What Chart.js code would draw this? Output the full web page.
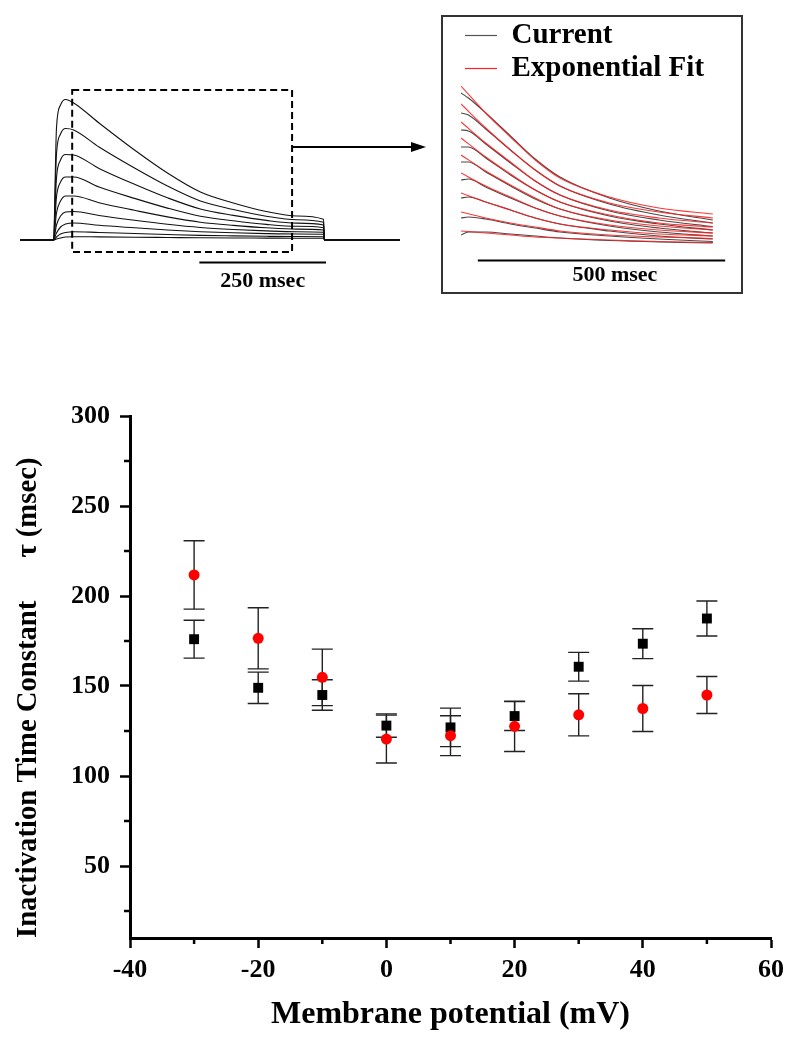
<!DOCTYPE html>
<html>
<head>
<meta charset="utf-8">
<title>Inactivation time constant</title>
<script src="https://cdn.jsdelivr.net/npm/chart.js@4.4.1/dist/chart.umd.min.js"></script>
<style>
  html, body { margin: 0; padding: 0; background: #fff; }
  body { width: 792px; height: 1050px; position: relative; overflow: hidden; }
  .panel { position: absolute; }
  #tracesBox { left: 20px; top: 80px; width: 380px; height: 220px; }
  #fitBorder { left: 441px; top: 15px; width: 298px; height: 275px; border: 2px solid #333; }
  #fitBox { left: 443px; top: 17px; width: 298px; height: 275px; }
  #mainBox { left: 0; top: 380px; width: 792px; height: 670px; }
  #arrow { left: 290px; top: 138px; }
</style>
</head>
<body>
<div class="panel" id="tracesBox"><canvas id="tracesChart"></canvas></div>
<svg class="panel" id="arrow" width="140" height="18">
  <line x1="2" y1="9" x2="124" y2="9" stroke="#000" stroke-width="2"/>
  <polygon points="121,4 136,9 121,14" fill="#000"/>
</svg>
<div class="panel" id="fitBorder"></div>
<div class="panel" id="fitBox"><canvas id="fitChart"></canvas></div>
<div class="panel" id="mainBox"><canvas id="mainChart"></canvas></div>

<script>
// ---- summary data: membrane potential vs inactivation tau ----
const potentials = [-30, -20, -10, 0, 10, 20, 30, 40, 50];
const squareTau = [176, 149, 145, 128, 127, 133.3, 160.7, 173.5, 187.5];
const squareErr = [10.5, 8.7, 8.5, 6.5, 10.7, 8, 8, 8.3, 9.7];
const circleTau = [211.7, 176.5, 154.8, 120.5, 122.4, 127.6, 134, 137.5, 145];
const circleErr = [19, 17, 15.7, 13.3, 11.1, 14, 11.7, 12.8, 10.3];

const xTicks = [-40, -20, 0, 20, 40, 60];
const xMinorTicks = [-30, -10, 10, 30, 50];
const yTicks = [50, 100, 150, 200, 250, 300];
const yMinorTicks = [25, 75, 125, 175, 225, 275];

// ---- raw current traces (left inset), time in ms, current in a.u. ----
const rawTimes = [-66, -1, 0, 6, 14, 24, 40, 90, 160, 225, 290, 355, 420, 480, 533, 535, 684];
const rawTraces = [
    [0, 0, 0, 112, 135, 140.5, 137, 117, 90, 67, 48, 37, 28.5, 24, 20.7, 0, 0],
    [0, 0, 0, 86, 106, 111.5, 110, 93, 72, 54, 39, 30.5, 23.8, 20.3, 17.7, 0, 0],
    [0, 0, 0, 62, 80, 85.5, 85, 71.6, 55.7, 42.2, 31, 24.6, 19.6, 16.9, 15, 0, 0],
    [0, 0, 0, 43, 58, 63, 63, 53, 41.6, 31.9, 23.8, 19.2, 15.6, 13.7, 12.3, 0, 0],
    [0, 0, 0, 27, 39, 44, 44, 37.3, 29.7, 23.1, 17.8, 14.6, 12.2, 10.9, 10, 0, 0],
    [0, 0, 0, 15, 24, 28, 28.5, 24.5, 19.7, 15.7, 12.5, 10.5, 9.1, 8.3, 7.7, 0, 0],
    [0, 0, 0, 7, 13, 16, 17, 14.7, 12.2, 10, 8.3, 7.2, 6.4, 6, 5.7, 0, 0],
    [0, 0, 0, 3, 6, 7.5, 8.3, 7.5, 6.5, 5.5, 4.6, 4.1, 3.7, 3.5, 3.3, 0, 0],
    [0, 0, 0, 1, 2, 3, 3.3, 3.1, 2.8, 2.5, 2.2, 2, 1.9, 1.8, 1.7, 0, 0]
];
const zoomWindow = [37, 471];   // ms, dashed box on the raw traces

// ---- expanded decay (right inset) ----
const fitTimes = [0, 50, 100, 150, 200, 300, 400, 509];
const fitTraces = [
    [164, 137, 113, 90, 72, 53, 42, 36],
    [146, 122, 100, 80, 64, 47, 38, 32],
    [128, 107, 88, 69, 55, 40, 32, 27],
    [112, 93, 76, 60, 48, 35, 27, 23],
    [95, 79, 65, 52, 41, 30, 24, 20],
    [77, 64, 53, 42, 34, 25, 20, 17],
    [57, 48, 40, 32, 26, 20, 16, 14],
    [38, 32, 27, 23, 19, 15, 13, 11.5],
    [19, 17, 15, 13, 12, 10, 8.5, 7.5]
];
const currentTimes = [0, 15, 50, 100, 150, 200, 300, 400, 509];
const currentTraces = [
    [157, 152, 137, 114, 91, 73, 52, 39, 30],
    [137, 135, 121, 100, 80, 64, 46, 35, 27],
    [120, 119, 106, 87, 69, 55, 39, 30, 23.5],
    [103, 103, 92, 75, 60, 48, 34, 26, 20],
    [88, 88, 78, 64, 51, 41, 29, 22, 17],
    [70, 71, 63, 52, 42, 34, 24, 18, 14],
    [52, 53, 48, 40, 32, 26, 19, 14, 11],
    [32, 33, 31, 26, 22, 18, 14, 11, 8.5],
    [15, 18, 18, 16, 14, 12, 9.5, 8, 7]
];

const serif = '"Liberation Serif", "Times New Roman", serif';

function toPoints(times, values) {
    return values.map((v, i) => ({ x: times[i], y: v }));
}

// Scale bar + label drawn with the chart's own scales
const scaleBarPlugin = {
    id: 'scaleBar',
    afterDraw(chart, args, opts) {
        const { ctx, scales: { x, y } } = chart;
        const x0 = x.getPixelForValue(opts.from);
        const x1 = x.getPixelForValue(opts.to);
        const yy = Math.round(y.getPixelForValue(opts.level)) + 0.5;
        ctx.save();
        ctx.strokeStyle = '#000';
        ctx.lineWidth = 2;
        ctx.beginPath();
        ctx.moveTo(x0, yy);
        ctx.lineTo(x1, yy);
        ctx.stroke();
        ctx.fillStyle = '#000';
        ctx.font = 'bold 22px ' + serif;
        ctx.textAlign = 'center';
        ctx.textBaseline = 'middle';
        ctx.fillText(opts.text, x.getPixelForValue(opts.textAt), y.getPixelForValue(opts.textLevel));
        ctx.restore();
    }
};

// Dashed selection box on the raw traces
const zoomBoxPlugin = {
    id: 'zoomBox',
    afterDraw(chart, args, opts) {
        const { ctx, scales: { x, y } } = chart;
        const l = x.getPixelForValue(opts.from), r = x.getPixelForValue(opts.to);
        const t = y.getPixelForValue(opts.top), b = y.getPixelForValue(opts.bottom);
        ctx.save();
        ctx.strokeStyle = '#000';
        ctx.lineWidth = 2;
        ctx.setLineDash([7, 4]);
        ctx.strokeRect(l, t, r - l, b - t);
        ctx.restore();
    }
};

// Error bars under the markers
const errorBarPlugin = {
    id: 'errorBars',
    beforeDatasetsDraw(chart) {
        const { ctx, scales: { x, y } } = chart;
        ctx.save();
        ctx.strokeStyle = '#222';
        ctx.lineWidth = 1.4;
        chart.data.datasets.forEach(ds => {
            ds.data.forEach((p, i) => {
                const px = x.getPixelForValue(p.x);
                const top = y.getPixelForValue(p.y + ds.errors[i]);
                const bot = y.getPixelForValue(p.y - ds.errors[i]);
                ctx.beginPath();
                ctx.moveTo(px, top);
                ctx.lineTo(px, bot);
                ctx.moveTo(px - 10.5, top);
                ctx.lineTo(px + 10.5, top);
                ctx.moveTo(px - 10.5, bot);
                ctx.lineTo(px + 10.5, bot);
                ctx.stroke();
            });
        });
        ctx.restore();
    }
};

// Minor tick marks (Chart.js has no minor ticks)
const minorTickPlugin = {
    id: 'minorTicks',
    afterDraw(chart) {
        const { ctx, scales: { x, y }, chartArea } = chart;
        ctx.save();
        ctx.strokeStyle = '#000';
        ctx.lineWidth = 2.5;
        ctx.beginPath();
        xMinorTicks.forEach(v => {
            const px = x.getPixelForValue(v);
            ctx.moveTo(px, chartArea.bottom);
            ctx.lineTo(px, chartArea.bottom + 6);
        });
        yMinorTicks.forEach(v => {
            const py = y.getPixelForValue(v);
            ctx.moveTo(chartArea.left, py);
            ctx.lineTo(chartArea.left - 6, py);
        });
        ctx.stroke();
        ctx.restore();
    }
};

const hiddenAxis = (min, max) => ({ type: 'linear', min: min, max: max, display: false });

document.addEventListener('DOMContentLoaded', function () {
    // Left inset: family of outward currents
    new Chart(document.getElementById('tracesChart'), {
        type: 'line',
        data: {
            datasets: rawTraces.map(tr => ({
                data: toPoints(rawTimes, tr),
                borderColor: '#111',
                borderWidth: 1.1,
                pointRadius: 0,
                cubicInterpolationMode: 'monotone'
            }))
        },
        options: {
            responsive: true,
            maintainAspectRatio: false,
            animation: false,
            layout: { padding: 0 },
            scales: { x: hiddenAxis(-66, 684), y: hiddenAxis(-60, 160) },
            plugins: {
                legend: { display: false },
                tooltip: { enabled: false },
                zoomBox: { from: zoomWindow[0], to: zoomWindow[1], top: 150, bottom: -12 },
                scaleBar: { from: 288, to: 538, level: -22, text: '250 msec', textAt: 413, textLevel: -41 }
            }
        },
        plugins: [zoomBoxPlugin, scaleBarPlugin]
    });

    // Right inset: decay phase with single exponential fits
    const fitSets = fitTraces.map(tr => ({
        data: toPoints(fitTimes, tr),
        borderColor: 'rgba(255, 30, 30, 0.9)',
        borderWidth: 1.1,
        pointRadius: 0,
        cubicInterpolationMode: 'monotone'
    }));
    const currentSets = currentTraces.map(tr => ({
        data: toPoints(currentTimes, tr),
        borderColor: 'rgba(40, 40, 40, 0.85)',
        borderWidth: 1.1,
        pointRadius: 0,
        cubicInterpolationMode: 'monotone'
    }));

    new Chart(document.getElementById('fitChart'), {
        type: 'line',
        data: { datasets: fitSets.concat(currentSets) },
        options: {
            responsive: true,
            maintainAspectRatio: false,
            animation: false,
            layout: { padding: { left: 18, top: 0, right: 0, bottom: 0 } },
            scales: { x: hiddenAxis(0, 566), y: hiddenAxis(-42, 233) },
            plugins: {
                tooltip: { enabled: false },
                legend: {
                    position: 'chartArea',
                    align: 'start',
                    labels: {
                        boxWidth: 32,
                        boxHeight: 1.2,
                        padding: 4,
                        color: '#000',
                        font: { family: serif, size: 29, weight: 'bold' },
                        generateLabels: () => [
                            { text: 'Current', fillStyle: '#555', strokeStyle: '#555', lineWidth: 0, datasetIndex: 9 },
                            { text: 'Exponential Fit', fillStyle: '#ff2020', strokeStyle: '#ff2020', lineWidth: 0, datasetIndex: 0 }
                        ]
                    }
                },
                scaleBar: { from: 34, to: 534, level: -10, text: '500 msec', textAt: 311, textLevel: -25 }
            }
        },
        plugins: [scaleBarPlugin]
    });

    // Main plot: tau vs membrane potential
    new Chart(document.getElementById('mainChart'), {
        type: 'scatter',
        data: {
            datasets: [
                {
                    label: 'squares',
                    data: toPoints(potentials, squareTau),
                    errors: squareErr,
                    pointStyle: 'rect',
                    pointRadius: 7,
                    backgroundColor: '#000',
                    borderColor: '#000',
                    borderWidth: 0,
                    order: 2
                },
                {
                    label: 'circles',
                    data: toPoints(potentials, circleTau),
                    errors: circleErr,
                    pointStyle: 'circle',
                    pointRadius: 5.5,
                    backgroundColor: '#ff0000',
                    borderColor: '#ff0000',
                    borderWidth: 0,
                    order: 1
                }
            ]
        },
        options: {
            responsive: true,
            maintainAspectRatio: false,
            animation: false,
            layout: { padding: { left: 0, top: 36, right: 21, bottom: 0 } },
            scales: {
                x: {
                    type: 'linear',
                    min: -40,
                    max: 60,
                    afterBuildTicks: s => { s.ticks = xTicks.map(v => ({ value: v })); },
                    afterFit: s => { s.height = 112; },
                    grid: { drawOnChartArea: false, drawTicks: true, tickLength: 10, tickWidth: 2.5, tickColor: '#000' },
                    border: { display: true, color: '#000', width: 3 },
                    ticks: { color: '#000', padding: 7, maxRotation: 0, font: { family: serif, size: 26, weight: 'bold' } },
                    title: {
                        display: true,
                        text: 'Membrane potential (mV)',
                        color: '#000',
                        font: { family: serif, size: 32, weight: 'bold' },
                        padding: { top: 0, bottom: 16 }
                    }
                },
                y: {
                    type: 'linear',
                    min: 10,
                    max: 300,
                    afterBuildTicks: s => { s.ticks = yTicks.map(v => ({ value: v })); },
                    afterFit: s => { s.width = 130; },
                    grid: { drawOnChartArea: false, drawTicks: true, tickLength: 10, tickWidth: 2.5, tickColor: '#000' },
                    border: { display: true, color: '#000', width: 3 },
                    ticks: { color: '#000', padding: 10, font: { family: serif, size: 26, weight: 'bold' } },
                    title: {
                        display: true,
                        align: 'start',
                        text: 'Inactivation Time Constant      \u03c4 (msec)',
                        color: '#000',
                        font: { family: serif, size: 28.7, weight: 'bold' },
                        padding: { top: 11, bottom: 0 }
                    }
                }
            },
            plugins: {
                legend: { display: false },
                tooltip: { enabled: false }
            }
        },
        plugins: [errorBarPlugin, minorTickPlugin]
    });
});
</script>
</body>
</html>
